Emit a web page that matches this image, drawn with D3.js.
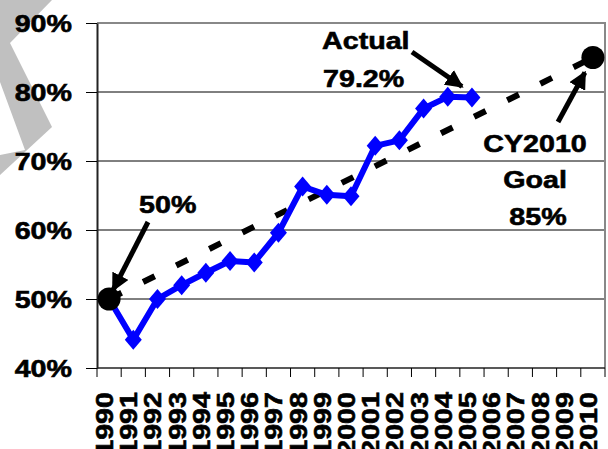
<!DOCTYPE html>
<html>
<head>
<meta charset="utf-8">
<script src="https://cdn.jsdelivr.net/npm/d3@7/dist/d3.min.js"></script>
<style>
  html, body { margin: 0; padding: 0; background: #fff; }
  svg { display: block; }
  text { font-family: "Liberation Sans", Arial, sans-serif; font-weight: bold; fill: #000;
         stroke: #000; stroke-width: 0.6px; }
</style>
</head>
<body>
<svg id="chart" width="608" height="449"></svg>
<script>
// Category axis: calendar years
const years = ["1990","1991","1992","1993","1994","1995","1996","1997","1998","1999",
               "2000","2001","2002","2003","2004","2005","2006","2007","2008","2009","2010"];
// Percentage axis ticks
const yTicks = [40, 50, 60, 70, 80, 90];
// Actual series (percent)
const actualYears = ["1990","1991","1992","1993","1994","1995","1996","1997","1998","1999",
                     "2000","2001","2002","2003","2004","2005"];
const actualPct = [50, 44.1, 50, 52, 53.8, 55.5, 55.3, 59.6, 66.3, 65.1,
                   64.9, 72.2, 73, 77.6, 79.3, 79.2];
// Goal trajectory (start and target)
const goalYears = ["1990", "2010"];
const goalPct = [50, 85];

const SX = 1.17; // horizontal stretch of all labels
const FS = "24.5px";
const svg = d3.select("#chart");

const x = d3.scaleBand().domain(years).range([97, 605]).padding(0);
const y = d3.scaleLinear().domain([40, 90]).range([368, 23]);
const cx = d => x(d) + x.bandwidth() / 2;

// Decorative grey chevron at the top-left
svg.append("path")
  .attr("d", "M0,0 L52,0 L10,43 L52,127 L0,175 L0,155 L25,150 L0,82 Z")
  .attr("fill", "#c0c0c0");

// Horizontal gridlines
svg.append("g")
  .selectAll("line")
  .data([50, 60, 70, 80])
  .join("line")
  .attr("x1", 97).attr("x2", 605)
  .attr("y1", d => y(d)).attr("y2", d => y(d))
  .attr("stroke", "#000").attr("stroke-width", 1);

// Plot border (top and right)
svg.append("path")
  .attr("d", `M97,${y(90)} H605 V${y(40)}`)
  .attr("fill", "none").attr("stroke", "#888").attr("stroke-width", 2);

// Y axis
const yAxis = svg.append("g")
  .attr("transform", "translate(97,0)")
  .call(d3.axisLeft(y).tickValues(yTicks).tickSize(11).tickSizeOuter(0).tickFormat(d => d + "%"));
yAxis.select(".domain").attr("stroke", "#222").attr("stroke-width", 2);
yAxis.selectAll(".tick line").attr("stroke", "#000").attr("stroke-width", 1);
yAxis.selectAll(".tick text")
  .attr("x", -25 / SX)
  .attr("dy", "0.35em")
  .attr("transform", `scale(${SX},1)`)
  .style("font-size", FS)
  .style("font-family", "'Liberation Sans', Arial, sans-serif")
  .style("font-weight", "bold");

// X axis line with ticks on category boundaries
svg.append("line")
  .attr("x1", 97).attr("x2", 605).attr("y1", y(40)).attr("y2", y(40))
  .attr("stroke", "#222").attr("stroke-width", 1.5);
svg.append("g")
  .selectAll("line")
  .data(years.concat(["end"]))
  .join("line")
  .attr("x1", d => d === "end" ? x.range()[1] : x(d))
  .attr("x2", d => d === "end" ? x.range()[1] : x(d))
  .attr("y1", y(40)).attr("y2", y(40) + 9)
  .attr("stroke", "#000").attr("stroke-width", 1);

// X axis labels (rotated)
const xAxis = svg.append("g")
  .attr("transform", `translate(0,${y(40)})`)
  .call(d3.axisBottom(x).tickSize(0).tickSizeOuter(0));
xAxis.select(".domain").remove();
xAxis.selectAll(".tick text")
  .attr("x", 0).attr("y", 0).attr("dy", 0)
  .attr("text-anchor", "end")
  .attr("transform", `translate(4,24) rotate(-90) scale(${SX},1)`)
  .style("font-size", FS)
  .style("font-family", "'Liberation Sans', Arial, sans-serif")
  .style("font-weight", "bold");

// Goal trajectory (dashed)
const line = d3.line().x(d => cx(d[0])).y(d => y(d[1]));
svg.append("path")
  .datum(goalYears.map((g, i) => [g, goalPct[i]]))
  .attr("d", line)
  .attr("fill", "none")
  .attr("stroke", "#000")
  .attr("stroke-width", 6)
  .attr("stroke-dasharray", "13,24")
  .attr("stroke-dashoffset", -1);

// Actual series
const actual = actualYears.map((a, i) => [a, actualPct[i]]);
svg.append("path")
  .datum(actual)
  .attr("d", line)
  .attr("fill", "none")
  .attr("stroke", "#0000ff")
  .attr("stroke-width", 6)
  .attr("stroke-linejoin", "round");

// Diamond marker, slightly taller than wide
const diamond = {
  draw(ctx, size) {
    const h = Math.sqrt(size) / 2, w = h * 0.85;
    ctx.moveTo(0, -h); ctx.lineTo(w, 0); ctx.lineTo(0, h); ctx.lineTo(-w, 0); ctx.closePath();
  }
};
svg.append("g")
  .selectAll("path")
  .data(actual)
  .join("path")
  .attr("d", d3.symbol(diamond, 400))
  .attr("transform", d => `translate(${cx(d[0])},${y(d[1])})`)
  .attr("fill", "#0000ff");

// Start and goal points
svg.append("g")
  .selectAll("circle")
  .data(goalYears.map((g, i) => [g, goalPct[i]]))
  .join("circle")
  .attr("cx", d => cx(d[0]))
  .attr("cy", d => y(d[1]))
  .attr("r", 11.5)
  .attr("fill", "#000");

// Arrowhead marker
svg.append("defs").append("marker")
  .attr("id", "head")
  .attr("markerUnits", "userSpaceOnUse")
  .attr("viewBox", "0 0 18 18")
  .attr("refX", 16).attr("refY", 9)
  .attr("markerWidth", 18).attr("markerHeight", 18)
  .attr("orient", "auto")
  .append("path")
  .attr("d", "M0,0 L18,9 L0,18 Z")
  .attr("fill", "#000");

function arrow(x1, y1, x2, y2) {
  svg.append("line")
    .attr("x1", x1).attr("y1", y1).attr("x2", x2).attr("y2", y2)
    .attr("stroke", "#000").attr("stroke-width", 5)
    .attr("marker-end", "url(#head)");
}
function label(txt, tx, ty, anchor) {
  svg.append("text")
    .attr("transform", `translate(${tx},${ty}) scale(${SX},1)`)
    .attr("text-anchor", anchor)
    .style("font-size", FS)
    .text(txt);
}

// Start annotation
const sX = cx(goalYears[0]), sY = y(goalPct[0]);
label(goalPct[0] + "%", 139, 213, "start");
arrow(148, 222, sX + 4, sY - 9);

// Latest actual annotation
const last = actual[actual.length - 1];
const aX = cx(last[0]), aY = y(last[1]);
label("Actual", 322, 49, "start");
label(last[1] + "%", 323, 87, "start");
arrow(412, 52, aX - 10, aY - 11);

// Goal annotation
const gX = cx(goalYears[1]), gY = y(goalPct[1]);
label("CY2010", 535, 152, "middle");
label("Goal", 535, 188, "middle");
label(goalPct[1] + "%", 538, 225, "middle");
arrow(558, 122, gX - 8, gY + 15);
</script>
</body>
</html>
